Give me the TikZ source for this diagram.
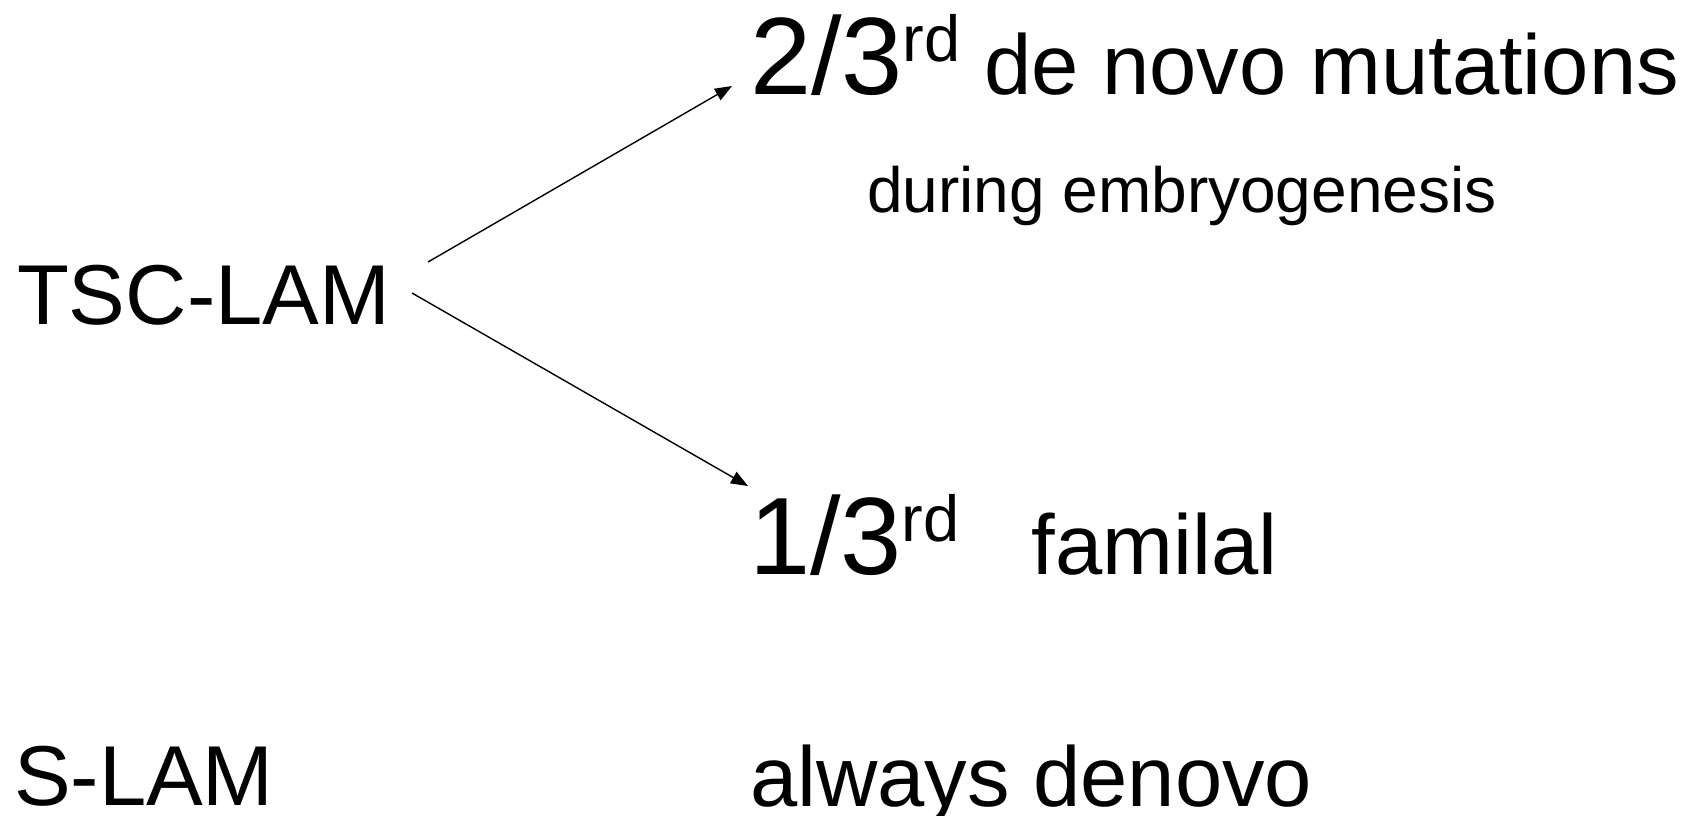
\documentclass[tikz,border=0pt]{standalone}
\usepackage{fontspec}
\setmainfont{Liberation Sans}
\usetikzlibrary{arrows.meta}

\newcommand{\bigsz}{\fontsize{110}{120}\selectfont}
\newcommand{\midsz}{\fontsize{85}{95}\selectfont}
\newcommand{\smallsz}{\fontsize{64}{72}\selectfont}
\newcommand{\ordsup}[1]{\raisebox{33pt}{\fontsize{65}{70}\selectfont #1}}

\begin{document}
\begin{tikzpicture}[x=1pt,y=-1pt,
  label/.style={anchor=base west, inner sep=0pt, outer sep=0pt, text=black},
  branch/.style={draw=black, line width=1.4pt, -{Triangle[length=17pt,width=13pt]}}]
  \useasboundingbox (0,0) rectangle (1692,815);

  % left-hand column: the two forms of LAM
  \node[label] (tsc) at (17,324) {\midsz TSC-LAM};
  \node[label] (slam) at (14,805) {\midsz S-LAM};

  % right-hand column: origin of the mutation
  \node[label] (denovo) at (750,94)
    {\bigsz 2/3\ordsup{rd}\midsz\ de novo mutations};
  \node[label] (embryo) at (867,212) {\smallsz during embryogenesis};
  \node[label] (famil) at (749,574)
    {\bigsz 1/3\ordsup{rd}\midsz\hspace{72pt}familal};
  \node[label] (always) at (750,806) {\midsz always denovo};

  % branch points of the two arrows
  \coordinate (upStart) at (428,262);
  \coordinate (upEnd) at (732,86);
  \coordinate (downStart) at (412,293);
  \coordinate (downEnd) at (748,486);

  \draw[branch] (upStart) -- (upEnd);
  \draw[branch] (downStart) -- (downEnd);
\end{tikzpicture}
\end{document}
